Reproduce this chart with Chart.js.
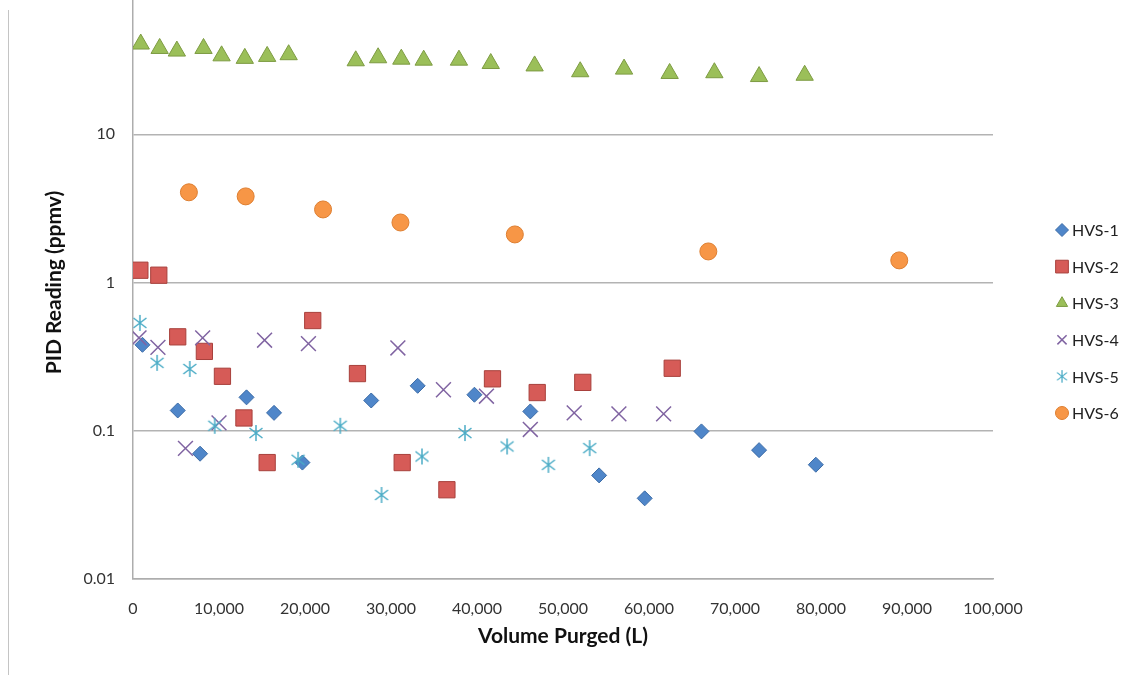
<!DOCTYPE html>
<html>
<head>
<meta charset="utf-8">
<script src="https://cdn.jsdelivr.net/npm/chart.js@4.4.1/dist/chart.umd.min.js"></script>
<style>
    html, body { margin: 0; padding: 0; background: #fff; }
    #wrap { position: relative; width: 1140px; height: 675px; overflow: hidden; }
    #frame { position: absolute; left: 8px; top: 10px; height: 670px; border-left: 1.5px solid #c4c4c4; }
    #holder { position: absolute; left: 0; top: -30px; width: 1140px; height: 705px; }
</style>
</head>
<body>
<div id="wrap">
    <div id="frame"></div>
    <div id="holder"><canvas id="pidChart" width="1140" height="705"></canvas></div>
</div>
<script>
// Volume purged (L) and PID reading (ppmv) for each vapour sample point
const hvs1Volume = [1100, 5200, 7800, 13200, 16400, 19700, 27700, 33100, 39700, 46200, 54200, 59500, 66100, 72800, 79400];
const hvs1Ppmv   = [0.38, 0.137, 0.070, 0.168, 0.132, 0.061, 0.160, 0.201, 0.175, 0.135, 0.050, 0.035, 0.099, 0.074, 0.059];

const hvs2Volume = [800, 3000, 5200, 8300, 10400, 12900, 15600, 20900, 26100, 31300, 36500, 41800, 47000, 52300, 62700];
const hvs2Ppmv   = [1.21, 1.12, 0.43, 0.343, 0.233, 0.122, 0.061, 0.554, 0.243, 0.061, 0.040, 0.224, 0.181, 0.212, 0.264];

const hvs3Volume = [900, 3100, 5100, 8200, 10300, 13000, 15600, 18100, 25900, 28500, 31200, 33800, 37900, 41600, 46700, 52000, 57100, 62400, 67600, 72800, 78100];
const hvs3Ppmv   = [40.6, 37.9, 36.4, 37.9, 33.8, 32.5, 33.5, 34.4, 31.3, 32.8, 32.1, 31.6, 31.6, 30.0, 28.9, 26.4, 27.5, 25.7, 26.0, 24.5, 25.0];

const hvs4Volume = [700, 2900, 6100, 8100, 10000, 15300, 20400, 30800, 36100, 41100, 46200, 51300, 56500, 61700];
const hvs4Ppmv   = [0.423, 0.365, 0.076, 0.423, 0.113, 0.408, 0.387, 0.362, 0.189, 0.171, 0.102, 0.132, 0.130, 0.130];

const hvs5Volume = [800, 2800, 6600, 9500, 14300, 19200, 24100, 28900, 33600, 38600, 43500, 48300, 53100];
const hvs5Ppmv   = [0.534, 0.287, 0.261, 0.108, 0.0965, 0.0637, 0.108, 0.0369, 0.0671, 0.0965, 0.0783, 0.0589, 0.0764];

const hvs6Volume = [6500, 13100, 22100, 31100, 44400, 66900, 89100];
const hvs6Ppmv   = [4.06, 3.81, 3.11, 2.54, 2.11, 1.62, 1.41];

const seriesNames = ['HVS-1', 'HVS-2', 'HVS-3', 'HVS-4', 'HVS-5', 'HVS-6'];
// the axis runs to 100 but that top line is cropped out of the picture
const yTickValues = [0.01, 0.1, 1, 10];
const xTickStep = 10000;

function toPoints(xs, ys) {
    return xs.map((x, i) => ({ x: x, y: ys[i] }));
}

// Excel style asterisk marker (X plus a vertical bar)
function makeAsterisk(color) {
    const c = document.createElement('canvas');
    c.width = 18; c.height = 18;
    const g = c.getContext('2d');
    g.strokeStyle = color;
    g.lineWidth = 1.5;
    g.beginPath();
    g.moveTo(9, 1); g.lineTo(9, 17);
    g.moveTo(2.5, 4); g.lineTo(15.5, 14);
    g.moveTo(15.5, 4); g.lineTo(2.5, 14);
    g.stroke();
    return c;
}
const asterisk = makeAsterisk('#4BACC6');

const datasets = [
    { label: seriesNames[0], data: toPoints(hvs1Volume, hvs1Ppmv), pointStyle: 'rectRot', pointRadius: 7.5,
      backgroundColor: '#4F86C9', borderColor: '#3B6BA6', borderWidth: 1, order: 6 },
    { label: seriesNames[1], data: toPoints(hvs2Volume, hvs2Ppmv), pointStyle: 'rect', pointRadius: 11.5,
      backgroundColor: '#D65B57', borderColor: '#A8403C', borderWidth: 1, order: 5 },
    { label: seriesNames[2], data: toPoints(hvs3Volume, hvs3Ppmv), pointStyle: 'triangle', pointRadius: 10,
      backgroundColor: '#9BBF59', borderColor: '#7D9B42', borderWidth: 1, order: 4 },
    { label: seriesNames[3], data: toPoints(hvs4Volume, hvs4Ppmv), pointStyle: 'crossRot', pointRadius: 10.5,
      backgroundColor: '#8064A2', borderColor: '#8064A2', borderWidth: 1.5, order: 3 },
    { label: seriesNames[4], data: toPoints(hvs5Volume, hvs5Ppmv), pointStyle: asterisk, pointRadius: 9,
      backgroundColor: '#4BACC6', borderColor: '#4BACC6', borderWidth: 1.5, order: 2 },
    { label: seriesNames[5], data: toPoints(hvs6Volume, hvs6Ppmv), pointStyle: 'circle', pointRadius: 8.5,
      backgroundColor: '#F79646', borderColor: '#DD7E30', borderWidth: 1, order: 1 }
];

// Legend drawn at the right, the way Excel places it
const sideLegend = {
    id: 'sideLegend',
    afterDraw(chart) {
        const ctx = chart.ctx;
        const area = chart.chartArea;
        const x = area.right + 69;
        const y0 = area.top + 244;
        const rowGap = 36.6;
        ctx.save();
        ctx.font = '16px Lato';
        ctx.textBaseline = 'middle';
        chart.data.datasets.forEach((ds, i) => {
            const y = y0 + i * rowGap;
            ctx.fillStyle = ds.backgroundColor;
            ctx.strokeStyle = ds.borderColor;
            ctx.lineWidth = ds.borderWidth;
            if (ds.pointStyle instanceof HTMLCanvasElement) {
                ctx.drawImage(ds.pointStyle, x - 7, y - 7, 14, 14);
            } else {
                Chart.helpers.drawPoint(ctx, { pointStyle: ds.pointStyle, radius: ds.pointStyle === 'rect' ? 9 : 6.5, rotation: 0, borderWidth: ds.borderWidth }, x, y);
            }
            ctx.fillStyle = '#222';
            ctx.fillText(ds.label, x + 10, y + 1);
        });
        ctx.restore();
    }
};

const ctx = document.getElementById('pidChart').getContext('2d');
const pidChart = new Chart(ctx, {
    type: 'scatter',
    data: { datasets: datasets },
    options: {
        responsive: false,
        animation: false,
        devicePixelRatio: 1,
        layout: { autoPadding: false, padding: { top: 16, left: 42, right: 147, bottom: 0 } },
        plugins: {
            legend: { display: false },
            tooltip: { enabled: false }
        },
        scales: {
            x: {
                type: 'linear',
                min: 0,
                max: 100000,
                ticks: {
                    stepSize: xTickStep,
                    padding: 12,
                    color: '#333',
                    font: { family: 'Lato', size: 16 },
                    maxRotation: 0,
                    callback: v => v.toLocaleString('en-US')
                },
                grid: { display: false },
                border: { display: true, color: '#adadad', width: 1.5 },
                title: {
                    display: true,
                    text: 'Volume Purged (L)',
                    color: '#111',
                    font: { family: 'Lato', size: 21, weight: 'bold' },
                    padding: { top: 0, bottom: 26 }
                },
                afterFit(scale) { scale.height = 96; }
            },
            y: {
                type: 'logarithmic',
                min: 0.01,
                max: 100,
                afterBuildTicks(scale) {
                    scale.ticks = yTickValues.map(v => ({ value: v }));
                },
                ticks: {
                    padding: 3,
                    color: '#333',
                    font: { family: 'Lato', size: 16 },
                    callback: v => String(v)
                },
                // invisible tick marks keep the labels clear of the axis
                grid: { color: '#b3b3b3', lineWidth: 1.5, drawTicks: true, tickLength: 15, tickColor: 'rgba(0,0,0,0)' },
                border: { display: true, color: '#adadad', width: 1.5 },
                title: {
                    display: true,
                    text: 'PID Reading (ppmv)',
                    color: '#111',
                    font: { family: 'Lato', size: 21, weight: 'bold' },
                    padding: { top: 0, bottom: 0 }
                },
                afterFit(scale) { scale.width = 91; }
            }
        }
    },
    plugins: [sideLegend]
});
</script>
</body>
</html>
